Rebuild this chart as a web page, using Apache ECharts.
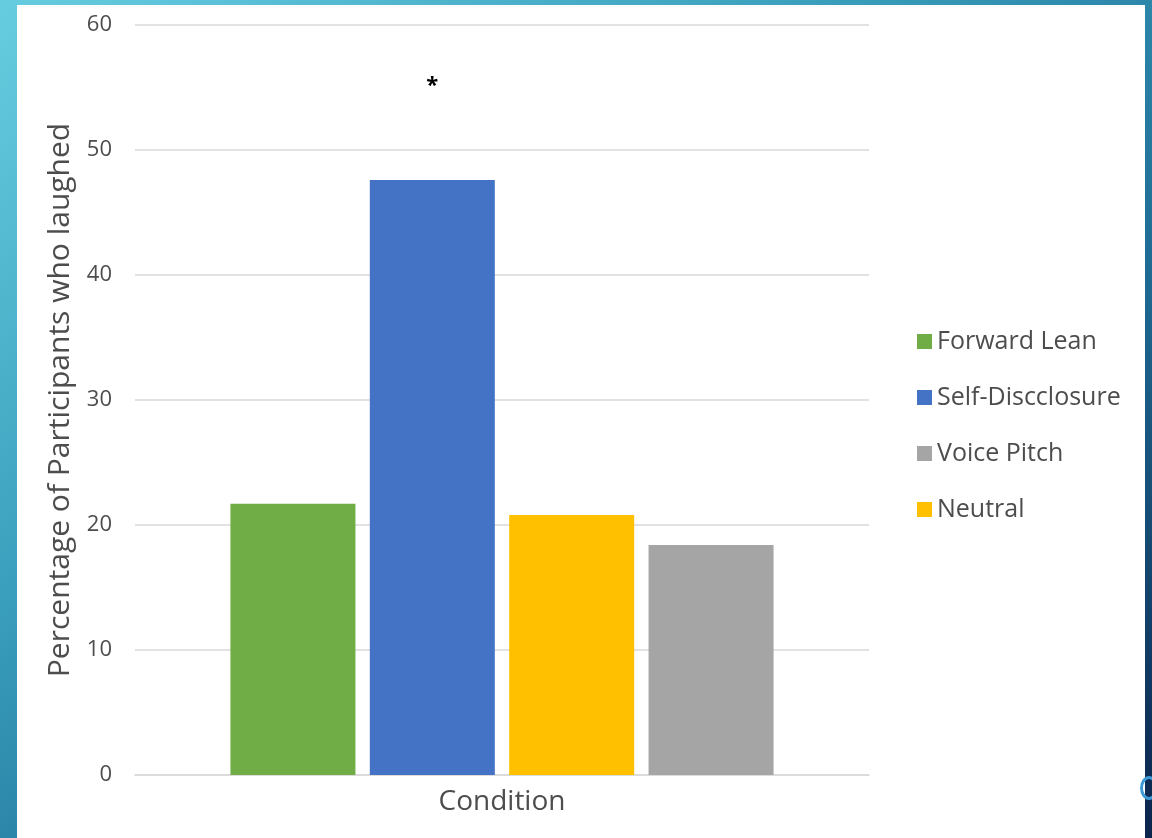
<!DOCTYPE html>
<html>
<head>
<meta charset="utf-8">
<script src="https://cdn.jsdelivr.net/npm/echarts@6/dist/echarts.min.js"></script>
<style>
  html, body { margin: 0; padding: 0; width: 1152px; height: 838px; overflow: hidden;
    background: linear-gradient(to bottom right, #66cde0 0%, #3aa0bd 35%, #1f6d96 65%, #0b244c 100%); }
  #panel { position: absolute; left: 17px; top: 5px; width: 1128px; height: 833px; background: #ffffff; }
  #chart { position: absolute; left: 0; top: 0; width: 1152px; height: 838px; }
  #dot { position: absolute; left: 1140px; top: 776px; width: 18px; height: 24px; border: 3px solid #3d9ad6; border-radius: 50%; box-sizing: border-box; }
</style>
</head>
<body>
<div id="panel"></div>
<div id="dot"></div>
<div id="chart"></div>
<script>
const categories = [''];
const seriesNames = ['Forward Lean', 'Self-Disclosure', 'Neutral', 'Voice Pitch'];
const legendLabels = ['Forward Lean', 'Self-Discclosure', 'Voice Pitch', 'Neutral'];
const legendOrder = ['Forward Lean', 'Self-Disclosure', 'Voice Pitch', 'Neutral'];
const values = [21.7, 47.6, 20.8, 18.4];
const colors = ['#70ad47', '#4472c4', '#ffc000', '#a5a5a5'];
const significance = ['', '*', '', ''];
const yTicks = [0, 10, 20, 30, 40, 50, 60];

const FONT = '"Open Sans", Lato, sans-serif';
const TEXT = '#4d4d4d';
const labelMap = {};
legendOrder.forEach((n, i) => { labelMap[n] = legendLabels[i]; });

const chart = echarts.init(document.getElementById('chart'), null, { renderer: 'canvas' });
chart.setOption({
  backgroundColor: 'transparent',
  animation: false,
  textStyle: { fontFamily: FONT },
  grid: { left: 135, right: 283, top: 25, bottom: 63, containLabel: false },
  legend: {
    orient: 'vertical', left: 912, top: 324,
    data: legendOrder,
    icon: 'rect', itemWidth: 15, itemHeight: 15, itemGap: 31,
    formatter: n => labelMap[n],
    textStyle: { color: TEXT, fontSize: 25, fontFamily: FONT }
  },
  xAxis: {
    type: 'category', data: categories,
    name: 'Condition', nameLocation: 'middle', nameGap: 13,
    nameTextStyle: { color: TEXT, fontSize: 28, fontFamily: FONT, verticalAlign: 'top' },
    axisLine: { lineStyle: { color: '#d9d9d9', width: 1.5 } },
    axisTick: { show: false }, axisLabel: { show: false }
  },
  yAxis: {
    type: 'value', min: yTicks[0], max: yTicks[yTicks.length - 1], interval: 10,
    name: 'Percentage of Participants who laughed', nameLocation: 'middle', nameGap: 59,
    nameTextStyle: { color: TEXT, fontSize: 30, fontFamily: FONT },
    axisLine: { show: false }, axisTick: { show: false },
    axisLabel: { color: TEXT, fontSize: 22, margin: 23, fontFamily: FONT },
    splitLine: { lineStyle: { color: '#d9d9d9', width: 1.5 } }
  },
  series: seriesNames.map((name, i) => ({
    name, type: 'bar', barWidth: 125, barGap: '11.5%',
    itemStyle: { color: colors[i] },
    data: [{
      value: values[i],
      label: {
        show: significance[i] !== '', position: 'top', distance: 83,
        formatter: significance[i], color: '#000', fontSize: 22, fontWeight: 'bold'
      }
    }]
  }))
});
</script>
</body>
</html>
